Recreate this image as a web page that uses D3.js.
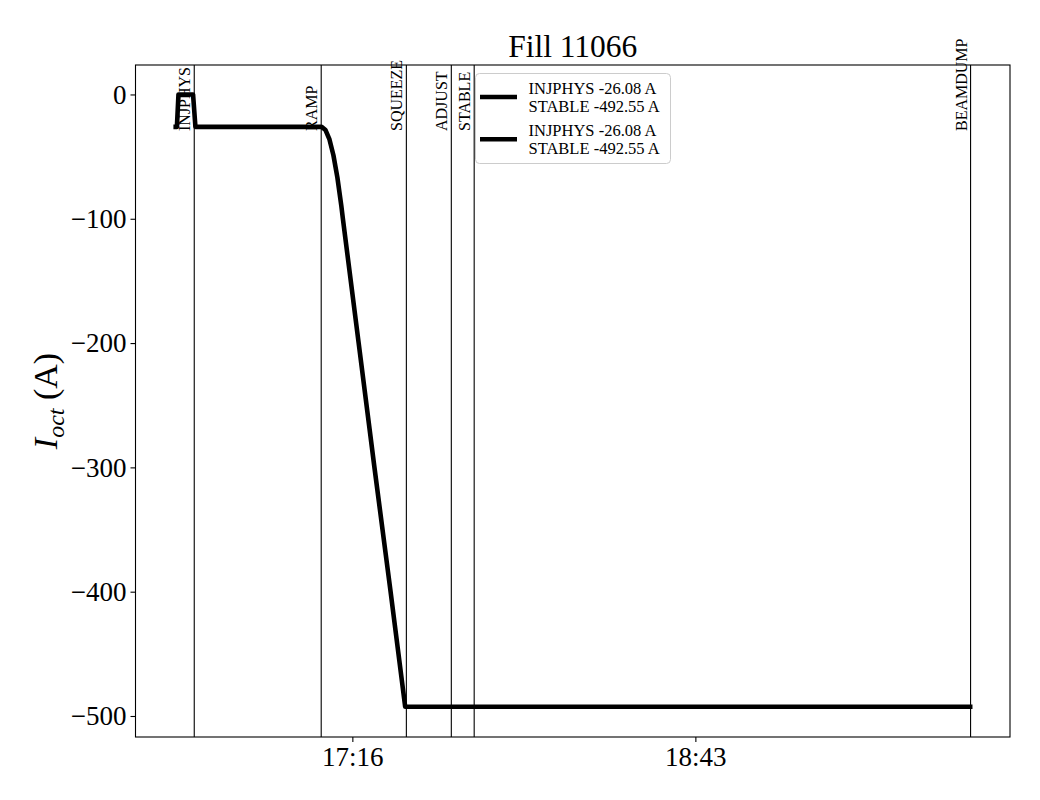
<!DOCTYPE html>
<html>
<head>
<meta charset="utf-8">
<script src="https://cdn.jsdelivr.net/npm/d3@7"></script>
<style>
  body { margin: 0; background: #fff; }
  text { font-family: "Liberation Serif", "Times New Roman", serif; }
</style>
</head>
<body>
<svg id="chart" width="1040" height="800"></svg>
<script>
// event markers
var eventNames = ["INJPHYS", "RAMP", "SQUEEZE", "ADJUST", "STABLE", "BEAMDUMP"];
var eventTimes = ["16:35:54", "17:08:06", "17:29:42", "17:41:06", "17:46:54", "19:52:48"];

// octupole current trace
var currentTimes = ["16:31:12", "16:31:30", "16:31:54", "16:35:36", "16:36:12", "17:08:06",
                    "17:08:12", "17:09:12", "17:10:12", "17:11:12", "17:12:12", "17:13:12",
                    "17:13:36", "17:17:36", "17:21:36", "17:25:42", "17:29:24", "19:52:42"];
var currentValues = [-26.08, -26.08, 0, 0, -26.08, -26.08,
                     -26.08, -28.6, -36.2, -48.9, -66.7, -89.5,
                     -100, -200, -300, -400, -492.55, -492.55];

var xTickLabels = ["17:16", "18:43"];
var yTickValues = [0, -100, -200, -300, -400, -500];
var legendLabels = [["INJPHYS -26.08 A", "STABLE -492.55 A"], ["INJPHYS -26.08 A", "STABLE -492.55 A"]];

var parseTime = d3.timeParse("%H:%M:%S");
var parseTick = d3.timeParse("%H:%M");

var dimensions = {
    width: 1040,
    height: 800,
    margin: { top: 65, bottom: 63, left: 135.5, right: 30 }
}

var svg = d3.select("#chart")

var xScale = d3.scaleTime()
    .domain([parseTime("16:21:00"), parseTime("20:02:48")])
    .range([dimensions.margin.left, dimensions.width - dimensions.margin.right])

var yScale = d3.scaleLinear()
    .domain([-516.9, 23.7])
    .range([dimensions.height - dimensions.margin.bottom, dimensions.margin.top])

var x0 = dimensions.margin.left, x1 = dimensions.width - dimensions.margin.right
var y0 = dimensions.margin.top, y1 = dimensions.height - dimensions.margin.bottom

// event lines
var events = eventNames.map(function(n, i) { return { name: n, t: parseTime(eventTimes[i]) } })

svg.append("g")
    .selectAll("line")
    .data(events)
    .enter()
    .append("line")
    .attr("x1", function(d) { return xScale(d.t) })
    .attr("x2", function(d) { return xScale(d.t) })
    .attr("y1", y0)
    .attr("y2", y1)
    .attr("stroke", "black")
    .attr("stroke-width", 1.1)

// current line
var data = currentTimes.map(function(t, i) { return { t: parseTime(t), v: currentValues[i] } })

var line = d3.line()
    .x(function(d) { return xScale(d.t) })
    .y(function(d) { return yScale(d.v) })

svg.append("path")
    .datum(data)
    .attr("d", line)
    .attr("fill", "none")
    .attr("stroke", "black")
    .attr("stroke-width", 4.6)
    .attr("stroke-linecap", "square")
    .attr("stroke-linejoin", "round")

// event labels
svg.append("g")
    .selectAll("text")
    .data(events)
    .enter()
    .append("text")
    .attr("transform", function(d) { return "translate(" + (xScale(d.t) - 4) + ",131) rotate(-90)" })
    .attr("font-size", "16px")
    .text(function(d) { return d.name })

// frame
svg.append("rect")
    .attr("x", x0)
    .attr("y", y0)
    .attr("width", x1 - x0)
    .attr("height", y1 - y0)
    .attr("fill", "none")
    .attr("stroke", "black")
    .attr("stroke-width", 1.1)

// axes
var xAxis = d3.axisBottom(xScale)
    .tickValues(xTickLabels.map(parseTick))
    .tickFormat(d3.timeFormat("%H:%M"))
    .tickSize(5)
    .tickPadding(5)

var yAxis = d3.axisLeft(yScale)
    .tickValues(yTickValues)
    .tickSize(5)
    .tickPadding(4)

var gx = svg.append("g")
    .attr("transform", "translate(0," + y1 + ")")
    .call(xAxis)

var gy = svg.append("g")
    .attr("transform", "translate(" + x0 + ",0)")
    .call(yAxis)

;[gx, gy].forEach(function(g) {
    g.select(".domain").remove()
    g.selectAll(".tick line").attr("stroke", "black").attr("stroke-width", 1.1)
    g.selectAll(".tick text")
        .attr("fill", "black")
        .attr("font-size", "27px")
        .style("font-family", "'Liberation Serif', serif")
})

// y label
var ylab = svg.append("text")
    .attr("transform", "translate(57," + ((y0 + y1) / 2) + ") rotate(-90)")
    .attr("text-anchor", "middle")
    .attr("font-size", "34px")
ylab.append("tspan").attr("font-style", "italic").text("I")
ylab.append("tspan").attr("font-style", "italic").attr("font-size", "24px").attr("dy", 7).text("oct")
ylab.append("tspan").attr("dy", -7).text(" (A)")

// title
svg.append("text")
    .attr("x", (x0 + x1) / 2)
    .attr("y", 57)
    .attr("text-anchor", "middle")
    .attr("font-size", "31.5px")
    .text("Fill 11066")

// legend
var legend = svg.append("g")

legend.append("rect")
    .attr("x", 475.5)
    .attr("y", 73.5)
    .attr("width", 195)
    .attr("height", 90)
    .attr("rx", 4)
    .attr("fill", "white")
    .attr("fill-opacity", 0.8)
    .attr("stroke", "#cccccc")
    .attr("stroke-width", 1)

var entries = legend.selectAll("g.entry")
    .data(legendLabels)
    .enter()
    .append("g")
    .attr("class", "entry")
    .attr("transform", function(d, i) { return "translate(0," + (i * 42.3) + ")" })

entries.append("line")
    .attr("x1", 480)
    .attr("x2", 517)
    .attr("y1", 97)
    .attr("y2", 97)
    .attr("stroke", "black")
    .attr("stroke-width", 4.6)

entries.each(function(d) {
    var g = d3.select(this)
    d.forEach(function(s, j) {
        g.append("text")
            .attr("x", 528.5)
            .attr("y", 94 + j * 17.7)
            .attr("font-size", "16.5px")
            .text(s)
    })
})
</script>
</body>
</html>
